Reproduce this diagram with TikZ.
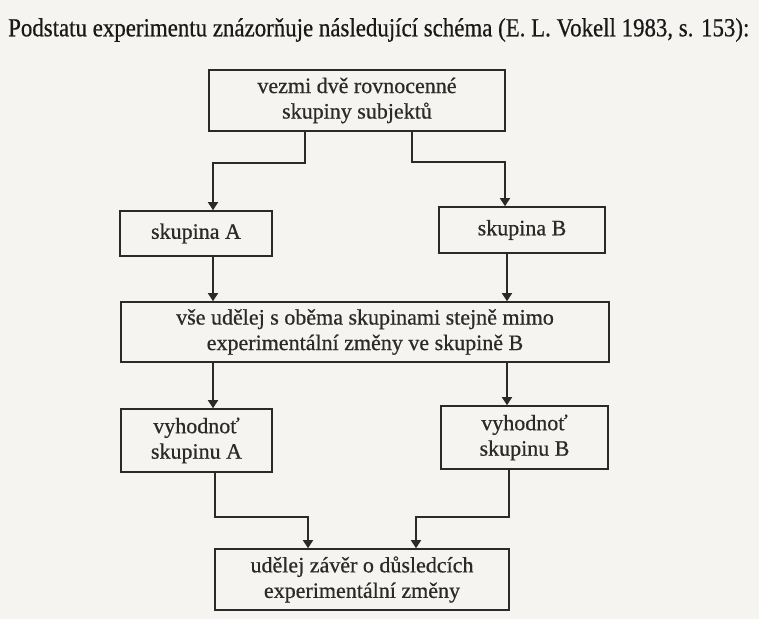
\documentclass[tikz,border=0pt]{standalone}
\usepackage{fontspec}
\setmainfont{Liberation Serif}
\newfontfamily\boxfont[FakeBold=0.6]{Liberation Serif}
\usetikzlibrary{arrows.meta,calc}
\definecolor{paper}{HTML}{F5F4F0}
\definecolor{ink}{HTML}{2A2A2A}
\tikzset{
  boxnode/.style={draw=ink, line width=1.6pt, text=ink, align=center,
    font=\boxfont\fontsize{22}{25.5}\selectfont, inner sep=0pt},
  conn/.style={draw=ink, line width=1.6pt},
  arr/.style={conn, -{Triangle[length=8pt,width=10pt]}},
}
\begin{document}
\begin{tikzpicture}[x=1pt,y=-1pt]
\fill[paper] (0,0) rectangle (759,619);
\useasboundingbox (0,0) rectangle (759,619);
\node[anchor=west, text=black!90, inner sep=0pt, font=\boxfont\fontsize{26}{30}\selectfont] (title) at (8,30)
  {\scalebox{0.88}[1]{Podstatu experimentu znázorňuje následující schéma (E. L. Vokell 1983, s. 153):}};

\node[boxnode, minimum width=296pt, minimum height=61pt] (top) at (357,100.5) {vezmi dvě rovnocenné\\skupiny subjektů};
\node[boxnode, minimum width=152pt, minimum height=45pt] (A) at (196,233.5) {skupina A};
\node[boxnode, minimum width=166pt, minimum height=46pt] (B) at (522,230) {skupina B};
\node[boxnode, minimum width=488pt, minimum height=60pt] (mid) at (365,332) {vše udělej s oběma skupinami stejně mimo\\experimentální změny ve skupině B};
\node[boxnode, minimum width=151pt, minimum height=63pt] (vA) at (196.5,440.5) {vyhodnoť\\skupinu A};
\node[boxnode, minimum width=167pt, minimum height=63pt] (vB) at (524.5,437.5) {vyhodnoť\\skupinu B};
\node[boxnode, minimum width=294pt, minimum height=61pt] (bot) at (362,579.5) {udělej závěr o důsledcích\\experimentální změny};

\coordinate (t1) at (305,163);
\coordinate (t2) at (213,163);
\coordinate (t3) at (412,162);
\coordinate (t4) at (505,162);
\coordinate (m1) at (213,0);
\coordinate (m2) at (507,0);
\coordinate (b1) at (215,517);
\coordinate (b2) at (308,517);
\coordinate (b3) at (509,517);
\coordinate (b4) at (416,517);

\draw[arr] (top.south -| t1) -- (t1) -- (t2) -- (A.north -| t2);
\draw[arr] (top.south -| t3) -- (t3) -- (t4) -- (B.north -| t4);
\draw[arr] (A.south -| m1) -- (mid.north -| m1);
\draw[arr] (B.south -| m2) -- (mid.north -| m2);
\draw[arr] (mid.south -| m1) -- (vA.north -| m1);
\draw[arr] (mid.south -| m2) -- (vB.north -| m2);
\draw[arr] (vA.south -| b1) -- (b1) -- (b2) -- (bot.north -| b2);
\draw[arr] (vB.south -| b3) -- (b3) -- (b4) -- (bot.north -| b4);
\end{tikzpicture}
\end{document}
